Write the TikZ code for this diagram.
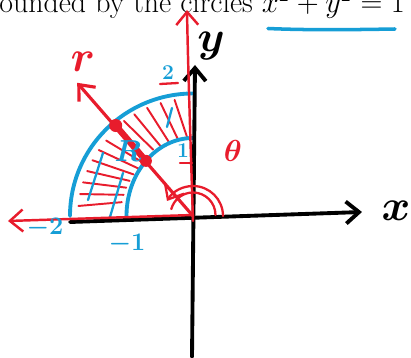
\documentclass[tikz,border=0pt]{standalone}
\usetikzlibrary{calc,arrows.meta}
\definecolor{penred}{RGB}{232,28,44}
\definecolor{penblue}{RGB}{22,158,214}

\begin{document}
\begin{tikzpicture}[line cap=round,line join=round,>={Straight Barb[length=2.6mm,width=4.4mm]}]
  \useasboundingbox (-3.86,-2.84) rectangle (4.36,4.32);
  \coordinate (O) at (0,0);
  \coordinate (A) at (130.5:1.45);
  \coordinate (B) at (130.5:2.38);
  \coordinate (T) at (131:3.53);
  \node[anchor=base west,inner sep=0pt,font=\fontsize{17}{20}\selectfont] (title) at (-3.88,4.06) {ounded by the circles $x^2+y^2=1$};
  \draw[penblue,line width=2pt] (1.5,3.75) .. controls (2.4,3.71) and (3.4,3.73) .. (4.04,3.74);
  \foreach \a in {97,104,111,118,124}
    \draw[penred,line width=1.1pt] (\a+2:2.35) -- (\a-3:1.55);
  \foreach \a in {139,145,151,157,163,169,175}
    \draw[penred,line width=1.1pt] (\a:2.3) -- (\a-6:1.45);
  \draw[penblue,line width=2.2pt] (0,2.45) arc (90:180:2.46 and 2.45);
  \draw[penblue,line width=2.2pt] (0,1.56) arc (90:180:1.33 and 1.56);
  \draw[penblue,line width=1.3pt] (-2.1,0.32) -- (-1.8,1.26);
  \draw[penblue,line width=1.3pt] (-1.66,-0.02) -- (-1.4,0.86);
  \draw[penblue,line width=1.3pt] (-0.42,2.16) -- (-0.52,1.78);
  \draw[line width=2.2pt,->] (-2.46,-0.12) -- (3.38,0.08);
  \draw[line width=2.2pt,->] (-0.02,-2.82) -- (0.04,3.02);
  \draw[penred,line width=1.4pt,->] (0,-0.1) .. controls (-0.05,1.5) and (-0.1,3) .. (-0.12,4.12);
  \draw[penred,line width=1.4pt,->] (0,0.02) -- (-3.7,-0.1);
  \draw[penred,line width=1.8pt,->] (O) -- (T);
  \draw[penred,line width=3.6pt] (A) -- (B);
  \fill[penred] (A) circle (0.12);
  \fill[penred] (B) circle (0.13);
  \draw[penred,line width=1.3pt,->] (0.6,0) arc (0:150:0.6);
  \draw[penred,line width=1.3pt] (0.45,0.02) arc (0:165:0.45);
  \draw[penred,line width=1.3pt] (-0.26,1.06) -- (-0.02,1.06);
  \draw[penred,line width=1.3pt] (-0.66,2.64) -- (-0.3,2.66);
  \node[font=\Huge\boldmath] (xl) at (4.06,0.1) {$x$};
  \node[font=\Huge\boldmath,inner sep=0pt] (yl) at (0.36,3.4) {$y$};
  \node[penred,font=\Huge\boldmath] (rl) at (-2.2,3.08) {$r$};
  \node[penblue,font=\LARGE\boldmath] (Rl) at (-1.3,1.3) {$R$};
  \node[penred,font=\LARGE\boldmath] (th) at (0.8,1.3) {$\theta$};
  \node[penblue,font=\large\boldmath] (two) at (-0.5,2.86) {$2$};
  \node[penblue,font=\large\boldmath] (one) at (-0.2,1.3) {$1$};
  \node[penblue,font=\Large\boldmath] (mtwo) at (-2.96,-0.24) {$-2$};
  \node[penblue,font=\Large\boldmath] (mone) at (-1.32,-0.56) {$-1$};
\end{tikzpicture}
\end{document}
